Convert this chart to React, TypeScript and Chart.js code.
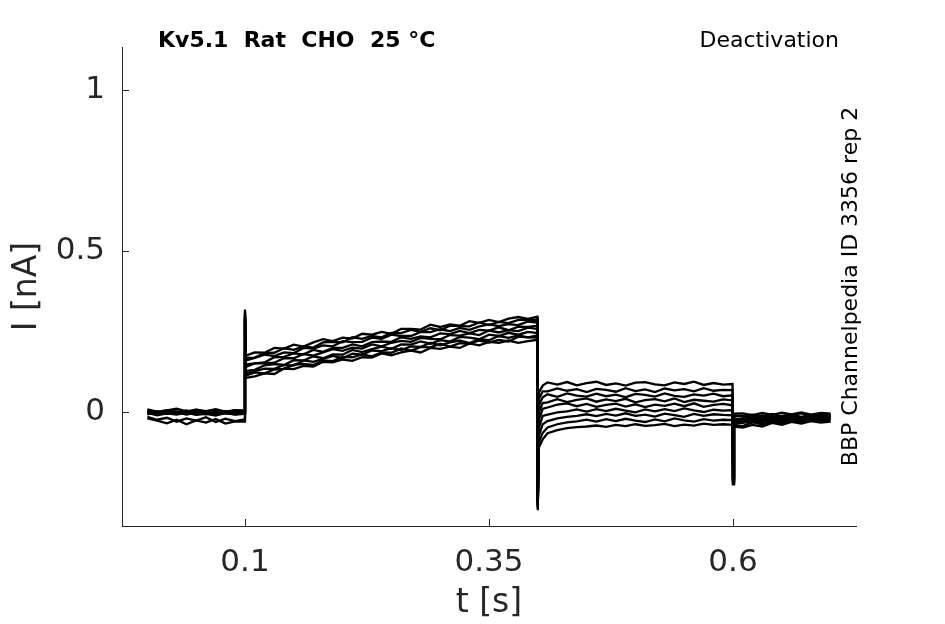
import { useEffect, useRef } from 'react';
import { Chart, registerables } from 'chart.js';

Chart.register(...registerables);

// time points [s]
const time = [
  0, 0.01, 0.02, 0.03, 0.04, 0.05, 0.06, 0.07, 0.08, 0.09, 0.0995, 0.1, 0.101,
  0.11, 0.12, 0.13, 0.14, 0.15, 0.16, 0.17, 0.18, 0.19, 0.2, 0.21, 0.22, 0.23, 0.24, 0.25,
  0.26, 0.27, 0.28, 0.29, 0.3, 0.31, 0.32, 0.33, 0.34, 0.35, 0.36, 0.37, 0.38, 0.39,
  0.3995, 0.4, 0.401, 0.405,
  0.41, 0.42, 0.43, 0.44, 0.45, 0.46, 0.47, 0.48, 0.49, 0.5, 0.51, 0.52, 0.53, 0.54, 0.55,
  0.56, 0.57, 0.58, 0.59,
  0.5995, 0.6, 0.601,
  0.61, 0.62, 0.63, 0.64, 0.65, 0.66, 0.67, 0.68, 0.69, 0.7,
];

// current traces [nA]
const trace1 = [
  0.004, -0.003, 0.006, 0.001, -0.004, 0.007, 0.0, 0.005, -0.002, 0.006, 0.003, 0.318, 0.175,
  0.185, 0.184, 0.199, 0.197, 0.209, 0.203, 0.216, 0.226, 0.22, 0.231, 0.228, 0.243, 0.24, 0.249, 0.243,
  0.258, 0.258, 0.256, 0.271, 0.264, 0.272, 0.268, 0.282, 0.277, 0.286, 0.279, 0.29, 0.295, 0.289,
  0.296, -0.305, 0.06, 0.082,
  0.092, 0.085, 0.093, 0.083, 0.09, 0.094, 0.084, 0.089, 0.082, 0.091, 0.093, 0.086, 0.083, 0.092, 0.087,
  0.094, 0.084, 0.09, 0.085,
  0.087, -0.225, -0.005,
  -0.004, -0.01, -0.003, -0.009, -0.002, -0.007, -0.001, -0.008, -0.003, -0.005,
];
const trace2 = [
  -0.005, 0.002, -0.006, 0.001, -0.003, 0.003, -0.007, 0.0, -0.004, 0.002, -0.001, 0.312, 0.168,
  0.169, 0.183, 0.184, 0.198, 0.193, 0.204, 0.2, 0.216, 0.218, 0.216, 0.232, 0.227, 0.236, 0.232, 0.246,
  0.245, 0.255, 0.249, 0.26, 0.254, 0.268, 0.267, 0.266, 0.278, 0.27, 0.28, 0.276, 0.286, 0.286,
  0.287, -0.3, 0.04, 0.064,
  0.064, 0.073, 0.066, 0.071, 0.062, 0.072, 0.069, 0.063, 0.074, 0.065, 0.07, 0.062, 0.073, 0.067, 0.071,
  0.064, 0.074, 0.066, 0.069,
  0.068, -0.222, -0.01,
  -0.015, -0.008, -0.014, -0.006, -0.013, -0.009, -0.004, -0.011, -0.007, -0.01,
];
const trace3 = [
  0.008, 0.001, 0.005, 0.01, 0.002, 0.007, 0.003, 0.009, 0.001, 0.006, 0.004, 0.306, 0.16,
  0.168, 0.178, 0.174, 0.185, 0.183, 0.199, 0.197, 0.207, 0.204, 0.22, 0.217, 0.218, 0.231, 0.227, 0.24,
  0.236, 0.236, 0.249, 0.248, 0.257, 0.251, 0.261, 0.255, 0.266, 0.272, 0.267, 0.273, 0.27, 0.281,
  0.278, -0.296, 0.02, 0.046,
  0.055, 0.047, 0.058, 0.051, 0.048, 0.057, 0.049, 0.054, 0.046, 0.056, 0.053, 0.048, 0.058, 0.05, 0.047,
  0.055, 0.051, 0.057, 0.049,
  0.052, -0.219, -0.012,
  -0.012, -0.019, -0.01, -0.017, -0.012, -0.008, -0.015, -0.009, -0.013, -0.008,
];
const trace4 = [
  -0.001, -0.008, -0.002, -0.006, 0.001, -0.007, -0.003, -0.009, -0.002, -0.005, -0.004, 0.3, 0.148,
  0.151, 0.154, 0.17, 0.171, 0.182, 0.179, 0.193, 0.187, 0.199, 0.199, 0.21, 0.204, 0.217, 0.219, 0.218,
  0.232, 0.227, 0.235, 0.232, 0.244, 0.242, 0.252, 0.245, 0.255, 0.253, 0.263, 0.254, 0.265, 0.264,
  0.268, -0.292, 0.0, 0.028,
  0.03, 0.04, 0.031, 0.038, 0.042, 0.032, 0.039, 0.034, 0.041, 0.03, 0.037, 0.04, 0.033, 0.042, 0.031,
  0.038, 0.035, 0.032, 0.039,
  0.036, -0.216, -0.02,
  -0.022, -0.014, -0.02, -0.013, -0.019, -0.012, -0.017, -0.01, -0.015, -0.012,
];
const trace5 = [
  0.002, -0.004, 0.004, -0.002, 0.005, -0.005, 0.001, -0.003, 0.003, -0.001, 0.0, 0.296, 0.14,
  0.151, 0.151, 0.153, 0.167, 0.167, 0.18, 0.175, 0.185, 0.195, 0.19, 0.2, 0.197, 0.21, 0.204, 0.215,
  0.221, 0.218, 0.23, 0.227, 0.226, 0.239, 0.237, 0.244, 0.239, 0.253, 0.247, 0.254, 0.251, 0.262,
  0.258, -0.288, -0.025, 0.01,
  0.014, 0.023, 0.027, 0.018, 0.025, 0.016, 0.022, 0.026, 0.017, 0.024, 0.015, 0.023, 0.019, 0.026, 0.018,
  0.027, 0.016, 0.022, 0.025,
  0.021, -0.213, -0.025,
  -0.026, -0.018, -0.024, -0.016, -0.022, -0.015, -0.021, -0.013, -0.018, -0.014,
];
const trace6 = [
  -0.003, -0.01, -0.004, -0.008, -0.002, -0.009, -0.006, -0.011, -0.003, -0.008, -0.006, 0.292, 0.128,
  0.131, 0.145, 0.149, 0.146, 0.161, 0.16, 0.173, 0.167, 0.179, 0.178, 0.193, 0.186, 0.195, 0.203, 0.196,
  0.21, 0.209, 0.219, 0.212, 0.223, 0.219, 0.233, 0.231, 0.226, 0.24, 0.236, 0.246, 0.24, 0.249,
  0.245, -0.285, -0.05, -0.012,
  -0.008, -0.001, 0.002, 0.008, 0.001, 0.009, 0.003, 0.01, 0.004, -0.001, 0.008, 0.002, 0.009, 0.003, 0.011,
  0.005, 0.0, 0.007, 0.004,
  0.006, -0.21, -0.03,
  -0.03, -0.022, -0.027, -0.02, -0.025, -0.017, -0.023, -0.016, -0.021, -0.018,
];
const trace7 = [
  -0.007, 0.0, -0.005, -0.001, -0.008, -0.002, -0.006, 0.001, -0.004, -0.007, -0.003, 0.288, 0.12,
  0.127, 0.135, 0.134, 0.146, 0.144, 0.16, 0.156, 0.165, 0.174, 0.167, 0.181, 0.178, 0.191, 0.189, 0.198,
  0.192, 0.204, 0.202, 0.215, 0.207, 0.216, 0.222, 0.214, 0.226, 0.223, 0.236, 0.23, 0.238, 0.232,
  0.238, -0.282, -0.075, -0.038,
  -0.028, -0.02, -0.015, -0.012, -0.007, -0.013, -0.006, -0.011, -0.004, -0.012, -0.008, -0.014, -0.005, -0.01, -0.015,
  -0.006, -0.012, -0.007, -0.009,
  -0.01, -0.207, -0.035,
  -0.034, -0.028, -0.031, -0.024, -0.029, -0.022, -0.027, -0.02, -0.025, -0.021,
];
const trace8 = [
  -0.015, -0.024, -0.018, -0.03, -0.02, -0.027, -0.016, -0.031, -0.021, -0.028, -0.023, 0.284, 0.113,
  0.123, 0.12, 0.132, 0.134, 0.147, 0.149, 0.146, 0.16, 0.158, 0.171, 0.17, 0.179, 0.173, 0.185, 0.184,
  0.197, 0.19, 0.202, 0.201, 0.212, 0.203, 0.214, 0.212, 0.222, 0.216, 0.224, 0.219, 0.234, 0.232,
  0.231, -0.279, -0.095, -0.065,
  -0.048, -0.038, -0.032, -0.029, -0.024, -0.03, -0.022, -0.028, -0.021, -0.027, -0.031, -0.023, -0.029, -0.02, -0.026,
  -0.03, -0.022, -0.027, -0.024,
  -0.025, -0.204, -0.04,
  -0.044, -0.032, -0.038, -0.029, -0.034, -0.026, -0.031, -0.024, -0.029, -0.025,
];
const trace9 = [
  -0.02, -0.027, -0.035, -0.024, -0.038, -0.026, -0.033, -0.022, -0.036, -0.029, -0.03, 0.28, 0.106,
  0.111, 0.12, 0.118, 0.135, 0.133, 0.143, 0.141, 0.156, 0.154, 0.163, 0.159, 0.17, 0.169, 0.182, 0.176,
  0.185, 0.191, 0.185, 0.199, 0.196, 0.203, 0.199, 0.213, 0.207, 0.218, 0.215, 0.222, 0.215, 0.22,
  0.224, -0.276, -0.11, -0.085,
  -0.066, -0.056, -0.05, -0.047, -0.045, -0.042, -0.046, -0.04, -0.044, -0.038, -0.043, -0.041, -0.037, -0.044, -0.039,
  -0.042, -0.036, -0.04, -0.038,
  -0.04, -0.2, -0.045,
  -0.048, -0.04, -0.045, -0.034, -0.04, -0.031, -0.036, -0.028, -0.033, -0.03,
];

const traces = [trace1, trace2, trace3, trace4, trace5, trace6, trace7, trace8, trace9];

const xTicks = [0.1, 0.35, 0.6];
const yTicks = [0, 0.5, 1];

const AXIS_COLOR = '#262626';
const FONT = '"DejaVu Sans", sans-serif';

const titleText = 'Kv5.1  Rat  CHO  25 \u00B0C';
const protocolText = 'Deactivation';
const sourceText = 'BBP Channelpedia ID 3356 rep 2';

// inward tick marks + the three annotations
const decorations = {
  id: 'decorations',
  afterDraw(chart: any) {
    const { ctx, chartArea, scales } = chart;
    const { left, right, top, bottom } = chartArea;
    ctx.save();
    ctx.strokeStyle = AXIS_COLOR;
    ctx.lineWidth = 1;
    ctx.beginPath();
    xTicks.forEach((v) => {
      const px = Math.round(scales.x.getPixelForValue(v)) + 0.5;
      ctx.moveTo(px, bottom);
      ctx.lineTo(px, bottom - 7);
    });
    yTicks.forEach((v) => {
      const py = Math.round(scales.y.getPixelForValue(v)) + 0.5;
      ctx.moveTo(left, py);
      ctx.lineTo(left + 7, py);
    });
    ctx.stroke();

    ctx.fillStyle = '#000';
    ctx.textBaseline = 'alphabetic';
    ctx.font = `bold 22px ${FONT}`;
    ctx.textAlign = 'left';
    ctx.fillText(titleText, left + 36, top);

    ctx.font = `22px ${FONT}`;
    ctx.textAlign = 'right';
    ctx.fillText(protocolText, right - 17, top);

    ctx.translate(right + 1, (top + bottom) / 2);
    ctx.rotate(-Math.PI / 2);
    ctx.textAlign = 'center';
    ctx.fillText(sourceText, 0, 0);
    ctx.restore();
  },
};

export default function App() {
  const chartRef = useRef<HTMLCanvasElement>(null);
  const chartInstance = useRef<Chart | null>(null);

  useEffect(() => {
    if (!chartRef.current) return;
    if (chartInstance.current) {
      chartInstance.current.destroy();
    }

    const datasets = traces.map((values, i) => ({
      label: `trace ${i + 1}`,
      data: values.map((v, j) => ({ x: time[j], y: v })),
      borderColor: '#000000',
      backgroundColor: '#000000',
      borderWidth: 2.3,
      pointRadius: 0,
      tension: 0,
      fill: false,
    }));

    chartInstance.current = new Chart(chartRef.current, {
      type: 'line',
      data: { datasets },
      options: {
        responsive: false,
        animation: false,
        events: [],
        layout: { padding: { top: 47, right: 89, left: 0, bottom: 0 } },
        plugins: {
          legend: { display: false },
          tooltip: { enabled: false },
        },
        scales: {
          x: {
            type: 'linear',
            min: -0.026,
            max: 0.726,
            afterFit: (scale: any) => {
              scale.height = 98;
            },
            afterBuildTicks: (scale: any) => {
              scale.ticks = xTicks.map((v) => ({ value: v }));
            },
            grid: { display: false, drawTicks: false },
            border: { display: true, color: AXIS_COLOR, width: 1 },
            ticks: {
              color: AXIS_COLOR,
              font: { family: FONT, size: 31 },
              padding: 18,
              maxRotation: 0,
              autoSkip: false,
              callback: (v: any) => String(v),
            },
            title: {
              display: true,
              text: 't [s]',
              color: AXIS_COLOR,
              font: { family: FONT, size: 33 },
              padding: { top: 0, bottom: 1 },
            },
          },
          y: {
            type: 'linear',
            min: -0.354,
            max: 1.1335,
            afterFit: (scale: any) => {
              scale.width = 122;
            },
            afterBuildTicks: (scale: any) => {
              scale.ticks = yTicks.map((v) => ({ value: v }));
            },
            grid: { display: false, drawTicks: false },
            border: { display: true, color: AXIS_COLOR, width: 1 },
            ticks: {
              color: AXIS_COLOR,
              font: { family: FONT, size: 31 },
              padding: 17,
              autoSkip: false,
              callback: (v: any) => String(v),
            },
            title: {
              display: true,
              text: 'I [nA]',
              color: AXIS_COLOR,
              font: { family: FONT, size: 33 },
              padding: { top: 8, bottom: 0 },
            },
          },
        },
      },
      plugins: [decorations],
    });

    return () => {
      if (chartInstance.current) {
        chartInstance.current.destroy();
        chartInstance.current = null;
      }
    };
  }, []);

  return (
    <div style={{ position: 'fixed', left: 0, top: 0, width: 945, height: 624, background: '#ffffff' }}>
      <canvas ref={chartRef} width={945} height={624}></canvas>
    </div>
  );
}
